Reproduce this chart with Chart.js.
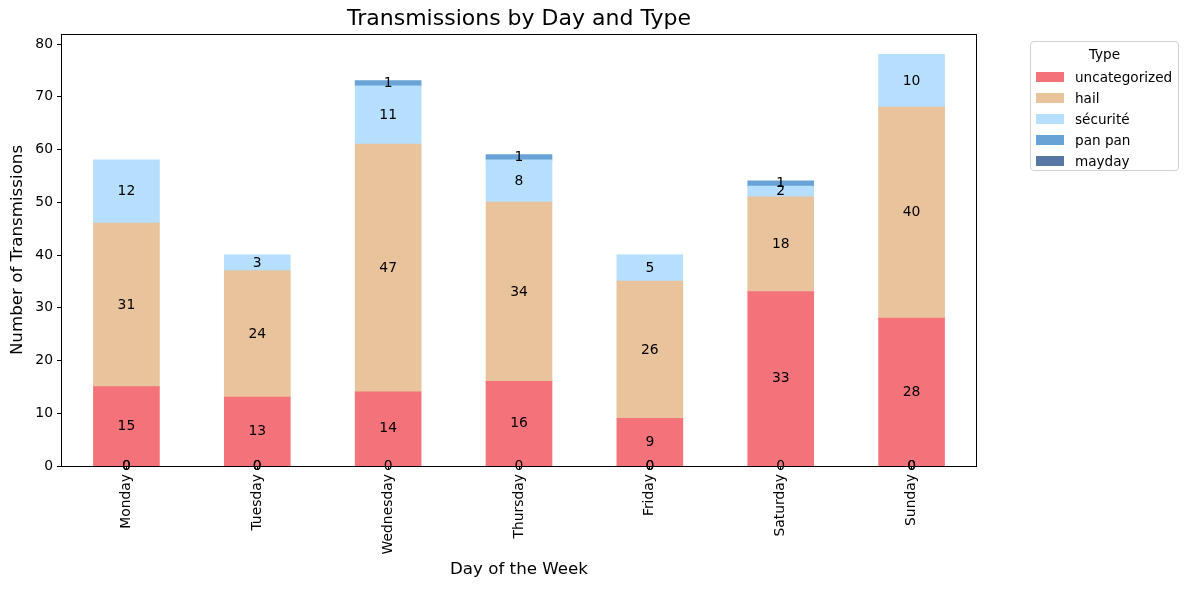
<!DOCTYPE html>
<html>
<head>
<meta charset="utf-8">
<script src="https://cdn.jsdelivr.net/npm/chart.js@4"></script>
<style>
  body { margin: 0; background: #fff; font-family: "DejaVu Sans", sans-serif; }
  #wrap { position: relative; width: 1189px; height: 590px; }
  #legend { position: absolute; left: 1030px; top: 41px; width: 147px; height: 128px;
            border: 1px solid #d0d0d0; border-radius: 4px; font-size: 13.6px; color: #000; }
  #legend .ttl { text-align: center; margin-top: 4px; height: 20px; line-height: 16px; }
  #legend .row { height: 21px; display: flex; align-items: center; }
  #legend .sw { width: 28px; height: 10px; margin-left: 5px; margin-right: 11px; }
</style>
</head>
<body>
<div id="wrap">
  <canvas id="chartByDay" width="1189" height="590"></canvas>
  <div id="legend"></div>
</div>
<script>
var days = ['Monday', 'Tuesday', 'Wednesday', 'Thursday', 'Friday', 'Saturday', 'Sunday'];
var types = ['uncategorized', 'hail', 'sécurité', 'pan pan', 'mayday'];
var uncategorized = [15, 13, 14, 16, 9, 33, 28];
var hail = [31, 24, 47, 34, 26, 18, 40];
var securite = [12, 3, 11, 8, 5, 2, 10];
var panPan = [0, 0, 1, 1, 0, 1, 0];
var mayday = [0, 0, 0, 0, 0, 0, 0];
var yTicks = [0, 10, 20, 30, 40, 50, 60, 70, 80];

var colors = ['#f4737a', '#e9c39b', '#b6defd', '#69a3d5', '#5878a4'];
var series = [uncategorized, hail, securite, panPan, mayday];

var font = "'DejaVu Sans', sans-serif";

var frameAndLabels = {
  id: 'frameAndLabels',
  afterDatasetsDraw: function(chart) {
    var ctx = chart.ctx;
    var y0 = chart.scales.y.getPixelForValue(0);
    ctx.save();
    ctx.fillStyle = '#000';
    ctx.font = '13.9px ' + font;
    ctx.textAlign = 'center';
    ctx.textBaseline = 'middle';
    chart.data.datasets.forEach(function(ds, i) {
      var meta = chart.getDatasetMeta(i);
      meta.data.forEach(function(bar, j) {
        var v = ds.data[j];
        var y = v === 0 ? y0 : (bar.y + bar.base) / 2;
        ctx.fillText(String(v), bar.x, y);
      });
    });
    var a = chart.chartArea;
    ctx.strokeStyle = '#000';
    ctx.lineWidth = 1;
    ctx.strokeRect(a.left + 0.5, a.top + 0.5, a.right - a.left - 1, a.bottom - a.top);
    ctx.font = '22px ' + font;
    ctx.fillText('Transmissions by Day and Type', (a.left + a.right) / 2, 19);
    ctx.restore();
  }
};

var ctx = document.getElementById('chartByDay').getContext('2d');
var chartByDay = new Chart(ctx, {
  type: 'bar',
  data: {
    labels: days,
    datasets: types.map(function(t, i) {
      return { label: t, data: series[i], backgroundColor: colors[i], borderWidth: 0,
               inflateAmount: function(c) { return c.raw === 0 ? 0 : 0.6; },
               barPercentage: 0.5, categoryPercentage: 1 };
    })
  },
  options: {
    responsive: false,
    animation: false,
    layout: { padding: { top: 34, right: 212, left: 0, bottom: 0 } },
    plugins: { legend: { display: false }, tooltip: { enabled: false } },
    scales: {
      x: {
        stacked: true,
        grid: { offset: false, drawOnChartArea: false, drawTicks: true, tickLength: 4, color: '#000' },
        border: { display: false },
        ticks: { color: '#000', font: { family: font, size: 13.9 }, minRotation: 90, maxRotation: 90, padding: 4 },
        title: { display: true, text: 'Day of the Week', color: '#000', font: { family: font, size: 16.7 },
                 padding: { top: 0, bottom: 10 } },
        afterFit: function(s) { s.height = 124; }
      },
      y: {
        stacked: true,
        min: 0,
        max: 81.9,
        grid: { drawOnChartArea: false, drawTicks: true, tickLength: 4, color: '#000' },
        border: { display: false },
        ticks: { color: '#000', font: { family: font, size: 13.9 }, stepSize: 10, includeBounds: false, padding: 4,
                 callback: function(v) { return yTicks.indexOf(v) >= 0 ? v : ''; } },
        title: { display: true, text: 'Number of Transmissions', color: '#000', font: { family: font, size: 16.7 },
                 padding: { top: 8, bottom: 0 } },
        afterFit: function(s) { s.width = 61; }
      }
    }
  },
  plugins: [frameAndLabels]
});

var legend = document.getElementById('legend');
var html = '<div class="ttl">Type</div>';
types.forEach(function(t, i) {
  html += '<div class="row"><span class="sw" style="background:' + colors[i] + '"></span>' + t + '</div>';
});
legend.innerHTML = html;
</script>
</body>
</html>
